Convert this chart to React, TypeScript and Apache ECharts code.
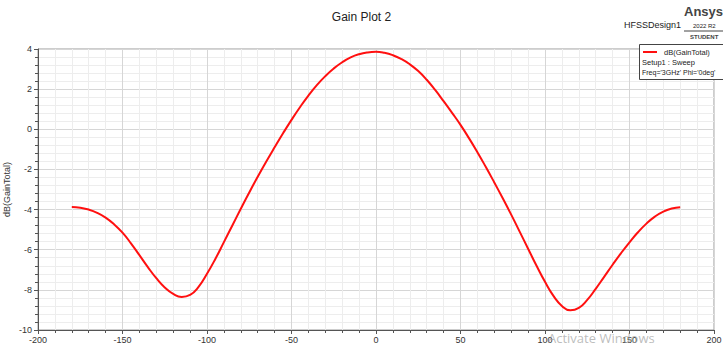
import React, { useEffect, useRef } from "react";
import * as echarts from "echarts";

const angles: number[] = [
  -180, -175, -170, -165, -160, -155, -150, -145, -140, -135, -130, -125, -120, -115, -110, -105, -100,
  -95, -90, -85, -80, -75, -70, -65, -60, -55, -50, -45, -40, -35, -30, -25, -20, -15, -10, -5, 0,
  5, 10, 15, 20, 25, 30, 35, 40, 45, 50, 55, 60, 65, 70, 75, 80, 85, 90, 95, 100,
  105, 110, 115, 120, 125, 130, 135, 140, 145, 150, 155, 160, 165, 170, 175, 180,
];

const gainDb: number[] = [
  -3.87, -3.91, -4.0, -4.16, -4.4, -4.73, -5.15, -5.68, -6.27, -6.87, -7.42, -7.88, -8.2, -8.35, -8.25, -7.85, -7.2,
  -6.45, -5.62, -4.79, -3.96, -3.15, -2.37, -1.62, -0.9, -0.2, 0.47, 1.1, 1.68, 2.2, 2.65, 3.03, 3.34, 3.58, 3.74, 3.83, 3.86,
  3.81, 3.69, 3.5, 3.24, 2.9, 2.47, 1.96, 1.4, 0.82, 0.22, -0.44, -1.14, -1.88, -2.65, -3.44, -4.25, -5.1, -5.95, -6.8, -7.6,
  -8.3, -8.8, -9.02, -8.9, -8.5, -7.95, -7.35, -6.75, -6.17, -5.63, -5.13, -4.7, -4.35, -4.1, -3.95, -3.88,
];

const title = "Gain Plot 2";
const yTitle = "dB(GainTotal)";
const legendLines = ["dB(GainTotal)", "Setup1 : Sweep", "Freq='3GHz' Phi='0deg'"];

export default function App() {
  const ref = useRef<HTMLDivElement>(null);
  useEffect(() => {
    if (!ref.current) return;
    const chart = echarts.init(ref.current, null, { renderer: "svg" });
    const font = "Liberation Sans, Arial, sans-serif";
    chart.setOption({
      animation: false,
      backgroundColor: "#ffffff",
      title: {
        text: title,
        left: "center",
        top: 6,
        textStyle: { fontFamily: font, fontSize: 12, fontWeight: "normal", color: "#222" },
      },
      grid: {
        left: 38,
        right: 9,
        top: 49,
        bottom: 21,
        outerBoundsMode: "none",
        containLabel: false,
        show: true,
        borderColor: "#9a9a9a",
        borderWidth: 1,
        backgroundColor: "transparent",
      },
      xAxis: {
        type: "value",
        min: -200,
        max: 200,
        interval: 50,
        axisLine: { show: true, onZero: false, lineStyle: { color: "#555", width: 1 } },
        axisTick: { show: true, length: 4, lineStyle: { color: "#555" } },
        minorTick: { show: true, splitNumber: 5, length: 3, lineStyle: { color: "#555" } },
        splitLine: { show: true, lineStyle: { color: "#d6d6d6", width: 1 } },
        minorSplitLine: { show: true, lineStyle: { color: "#ededed", width: 1 } },
        axisLabel: { fontFamily: font, fontSize: 9, color: "#333", margin: 5 },
      },
      yAxis: {
        type: "value",
        min: -10,
        max: 4,
        interval: 2,
        name: yTitle,
        nameLocation: "middle",
        nameGap: 27,
        nameMoveOverlap: false,
        nameRotate: 90,
        nameTextStyle: { fontFamily: font, fontSize: 9, color: "#333" },
        axisLine: { show: true, onZero: false, lineStyle: { color: "#555", width: 1 } },
        axisTick: { show: true, length: 4, lineStyle: { color: "#555" } },
        minorTick: { show: true, splitNumber: 5, length: 3, lineStyle: { color: "#555" } },
        splitLine: { show: true, lineStyle: { color: "#d6d6d6", width: 1 } },
        minorSplitLine: { show: true, lineStyle: { color: "#ededed", width: 1 } },
        axisLabel: { fontFamily: font, fontSize: 9, color: "#333", margin: 6 },
      },
      series: [
        {
          type: "line",
          name: legendLines[0],
          data: angles.map((a, i) => [a, gainDb[i]]),
          smooth: 0.5,
          showSymbol: false,
          lineStyle: { color: "#ff1010", width: 2 },
        },
      ],
      graphic: [
        {
          type: "text",
          left: 624,
          top: 20,
          style: { text: "HFSSDesign1", fontFamily: font, fontSize: 9, fill: "#222" },
        },
        {
          type: "text",
          left: 684,
          top: 5,
          style: { text: "Ansys", fontFamily: font, fontSize: 13, fontWeight: "bold", fill: "#444" },
        },
        {
          type: "text",
          left: 693,
          top: 23,
          style: { text: "2022 R2", fontFamily: font, fontSize: 6, fill: "#222" },
        },
        {
          type: "line",
          shape: { x1: 684, y1: 31, x2: 723, y2: 31 },
          style: { stroke: "#444", lineWidth: 1 },
        },
        {
          type: "text",
          left: 690,
          top: 34,
          style: { text: "STUDENT", fontFamily: font, fontSize: 6, fontWeight: "bold", fill: "#444" },
        },
        {
          type: "rect",
          shape: { x: 639.5, y: 44.5, width: 90, height: 35 },
          style: { fill: "#ffffff", stroke: "#444", lineWidth: 1 },
          z: 100,
        },
        {
          type: "line",
          shape: { x1: 643, y1: 52, x2: 657, y2: 52 },
          style: { stroke: "#ff1010", lineWidth: 2 },
          z: 101,
        },
        {
          type: "text",
          left: 664,
          top: 48,
          z: 101,
          style: { text: legendLines[0], fontFamily: font, fontSize: 7.5, fill: "#222" },
        },
        {
          type: "text",
          left: 642,
          top: 58,
          z: 101,
          style: { text: legendLines[1], fontFamily: font, fontSize: 7.5, fill: "#222" },
        },
        {
          type: "text",
          left: 642,
          top: 69,
          z: 101,
          style: { text: legendLines[2], fontFamily: font, fontSize: 7, fill: "#222" },
        },
        {
          type: "text",
          left: 548,
          top: 331,
          z: 101,
          style: { text: "Activate Windows", fontFamily: "Open Sans, sans-serif", fontSize: 13, fill: "rgba(160,160,160,0.7)" },
        },
      ],
    });
    return () => chart.dispose();
  }, []);
  return <div ref={ref} style={{ width: 723, height: 351, position: "absolute", left: 0, top: 0 }} />;
}
